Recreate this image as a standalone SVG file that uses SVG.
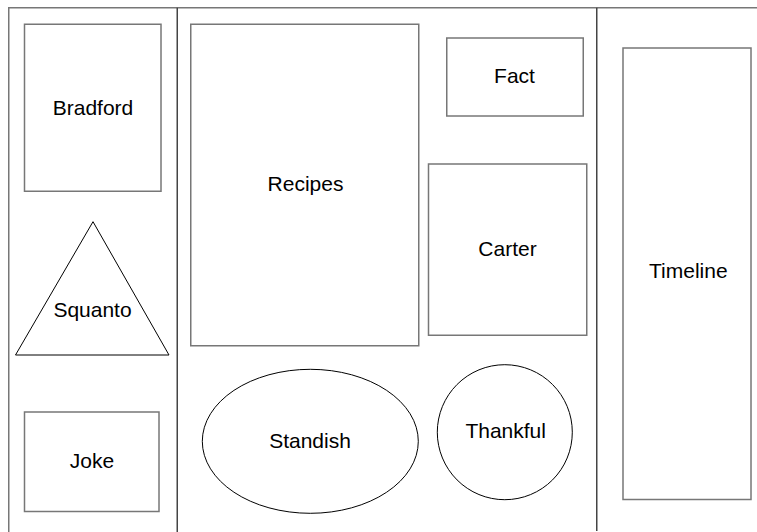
<svg xmlns="http://www.w3.org/2000/svg" width="757" height="532" viewBox="0 0 757 532">
<style>
.frame{stroke:#777;stroke-width:1.5;fill:none}
.div{stroke:#444;stroke-width:1.5;fill:none}
.box{stroke:#777;stroke-width:1.5;fill:#fff}
.thin{stroke:#000;stroke-width:1;fill:#fff}
text{font-family:"Liberation Sans",Arial,sans-serif;font-size:21px;fill:#000;text-anchor:middle}
</style>
<rect width="757" height="532" fill="#fff"/>
<g id="connectors">
<path class="frame" d="M8.75,532 V7.75 H757"/>
<path class="div" d="M177.25,7.75 V532"/>
<path class="div" d="M596.75,7.75 V531"/>
</g>
<g id="bradford"><rect class="box" x="24.5" y="24.25" width="136.5" height="167"/><text x="93" y="115">Bradford</text></g>
<g id="squanto"><polygon class="thin" points="93,221.7 15.5,355 169,355"/><text x="92.5" y="316.7">Squanto</text></g>
<g id="joke"><rect class="box" x="24.5" y="412" width="134.5" height="99.5"/><text x="92" y="467.7">Joke</text></g>
<g id="recipes"><rect class="box" x="190.75" y="24.25" width="228" height="321.5"/><text x="305.5" y="191">Recipes</text></g>
<g id="fact"><rect class="box" x="446.75" y="38" width="136.5" height="78"/><text x="514.5" y="83.3">Fact</text></g>
<g id="carter"><rect class="box" x="428.5" y="164" width="158.25" height="171.25"/><text x="507.5" y="256">Carter</text></g>
<g id="timeline"><rect class="box" x="623" y="48" width="128" height="451.5"/><text x="688.3" y="278.3">Timeline</text></g>
<g id="standish"><ellipse class="thin" cx="310.3" cy="441.3" rx="108" ry="72"/><text x="310" y="447.7">Standish</text></g>
<g id="thankful"><circle class="thin" cx="504.8" cy="432.2" r="67.5"/><text x="505.7" y="438.3">Thankful</text></g>
</svg>
